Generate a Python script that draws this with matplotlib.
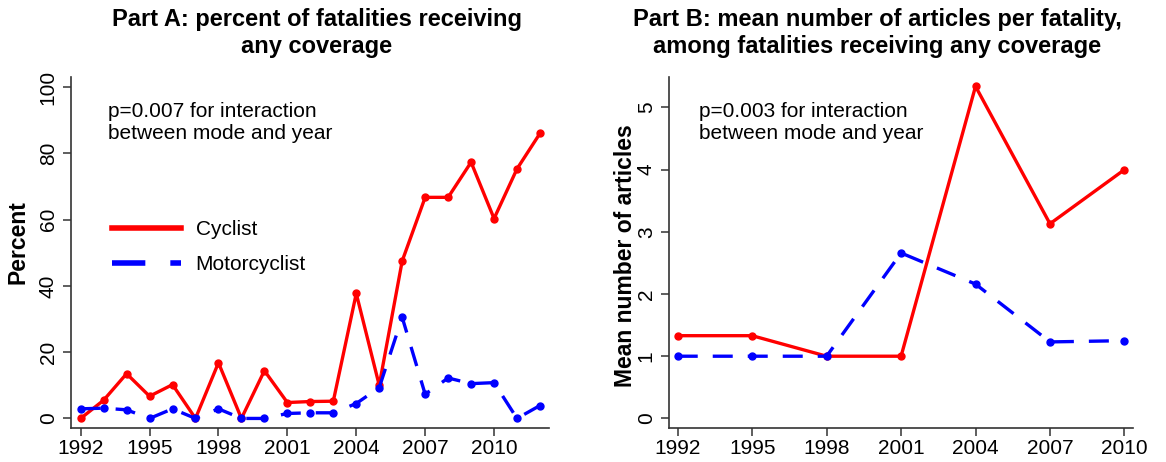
import matplotlib
matplotlib.use('Agg')
import matplotlib.pyplot as plt

plt.rcParams['font.family'] = ['Liberation Sans', 'DejaVu Sans']

# Part A: percent of fatalities receiving any coverage, yearly
years_a = list(range(1992, 2013))
cyclist_a = [0, 5.5, 13.5, 6.7, 10.2, 0, 16.8, 0, 14.4, 4.8, 5.1, 5.2,
             37.7, 10.0, 47.5, 66.7, 66.7, 77.3, 60.3, 75.3, 86.0]
motor_a = [2.9, 3.1, 2.6, 0, 2.9, 0, 2.9, 0, 0, 1.5, 1.7, 1.7,
           4.5, 9.3, 30.5, 7.3, 12.2, 10.5, 10.8, 0, 3.9]

# Part B: mean number of articles per fatality, 3-year groups
years_b = [1992, 1995, 1998, 2001, 2004, 2007, 2010]
cyclist_b = [1.33, 1.33, 1.0, 1.0, 5.34, 3.13, 4.0]
motor_b = [1.0, 1.0, 1.0, 2.66, 2.16, 1.23, 1.25]

xticks = [1992, 1995, 1998, 2001, 2004, 2007, 2010]

RED = '#ff0000'
BLUE = '#0000ff'
LW = 2.4
MS = 5


def style_axis(ax):
    for s in ['top', 'right']:
        ax.spines[s].set_visible(False)
    for s in ['left', 'bottom']:
        ax.spines[s].set_color('#333333')
        ax.spines[s].set_linewidth(1.2)
    ax.tick_params(axis='both', direction='out', length=6, width=1.1,
                   color='#333333', labelsize=15)
    ax.tick_params(axis='x', pad=2)
    for lab in ax.get_yticklabels():
        lab.set_rotation(90)
        lab.set_va('center')


fig = plt.figure(figsize=(11.66, 4.62), dpi=100)

# ---- Part A
ax1 = fig.add_axes([0.0609, 0.0742, 0.4099, 0.7591])
l1, = ax1.plot(years_a, cyclist_a, color=RED, lw=LW, marker='o', ms=MS,
               label='Cyclist')
l2, = ax1.plot(years_a, motor_a, color=BLUE, lw=LW, marker='o', ms=MS,
               dashes=(6, 4.5), label='Motorcyclist')
ax1.set_xlim(1991.58, 2012.39)
ax1.set_ylim(-2.8, 103)
ax1.set_xticks(xticks)
ax1.set_yticks([0, 20, 40, 60, 80, 100])
style_axis(ax1)
ax1.set_ylabel('Percent', fontsize=16.5, fontweight='bold')
ax1.yaxis.set_label_coords(-0.086, 0.53)
ax1.text(0.078, 0.93, 'p=0.007 for interaction\nbetween mode and year',
         transform=ax1.transAxes, fontsize=15, va='top', ha='left',
         linespacing=1.2)
leg = ax1.legend(handles=[l1, l2], loc='upper left',
                 bbox_to_anchor=(0.047, 0.645), frameon=False, fontsize=15,
                 handlelength=3.3, handletextpad=0.7, labelspacing=0.75)
for h in leg.get_lines():
    h.set_marker('')
    h.set_linewidth(4)

# ---- Part B
ax2 = fig.add_axes([0.5738, 0.0742, 0.3982, 0.7591])
ax2.plot(years_b, cyclist_b, color=RED, lw=LW, marker='o', ms=MS)
ax2.plot(years_b, motor_b, color=BLUE, lw=LW, marker='o', ms=MS,
         dashes=(6, 4.5))
ax2.set_xlim(1991.65, 2010.36)
ax2.set_ylim(-0.15, 5.49)
ax2.set_xticks(xticks)
ax2.set_yticks([0, 1, 2, 3, 4, 5])
style_axis(ax2)
ax2.set_ylabel('Mean number of articles', fontsize=16.5, fontweight='bold')
ax2.yaxis.set_label_coords(-0.069, 0.49)
ax2.text(0.065, 0.93, 'p=0.003 for interaction\nbetween mode and year',
         transform=ax2.transAxes, fontsize=15, va='top', ha='left',
         linespacing=1.2)

# titles
fig.text(317 / 1166, 0.982,
         'Part A: percent of fatalities receiving\nany coverage',
         ha='center', va='top', fontsize=17, fontweight='bold',
         linespacing=1.2)
fig.text(877 / 1166, 0.982,
         'Part B: mean number of articles per fatality,\n'
         'among fatalities receiving any coverage',
         ha='center', va='top', fontsize=17, fontweight='bold',
         linespacing=1.2)

fig.savefig('out.png', dpi=100)
